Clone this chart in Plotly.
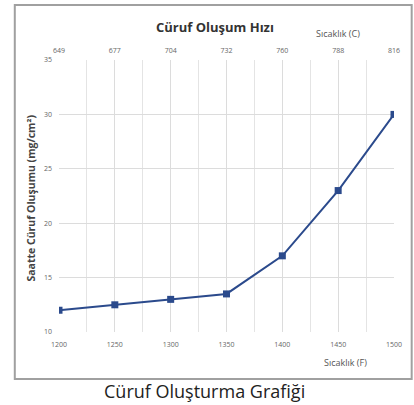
import plotly.graph_objects as go

temp_f = [1200, 1250, 1300, 1350, 1400, 1450, 1500]
temp_c_labels = ["649", "677", "704", "732", "760", "788", "816"]
slag_rate = [12.0, 12.5, 13.0, 13.5, 17.0, 23.0, 30.0]

title_text = "Cüruf Oluşum Hızı"
top_axis_title = "Sıcaklık (C)"
bottom_axis_title = "Sıcaklık (F)"
y_axis_title = "Saatte Cüruf Oluşumu (mg/cm²)"
caption = "Cüruf Oluşturma Grafiği"

W, H = 414, 405
L, R, T, B = 59, 14, 60, 73
pw, ph = W - L - R, H - T - B

def px(x):
    return (x - L) / pw

def py(y):
    return (H - B - y) / ph

line_color = "#2b4a8c"
tick_font = dict(family="Open Sans, Lato, sans-serif", size=7, color="#666666")

def note(text, x, y, size, color, angle=0):
    return dict(text=text, x=px(x), y=py(y), xref="paper", yref="paper",
                xanchor="center", yanchor="middle", showarrow=False,
                textangle=angle,
                font=dict(family="Open Sans, sans-serif", size=size, color=color))

fig = go.Figure()
fig.add_trace(go.Scatter(
    x=temp_f, y=slag_rate, mode="lines+markers",
    line=dict(color=line_color, width=2),
    marker=dict(symbol="square", size=7, color=line_color),
    showlegend=False, hoverinfo="x+y",
))
fig.add_trace(go.Scatter(
    x=temp_f, y=slag_rate, xaxis="x2", mode="lines",
    line=dict(width=0), opacity=0, showlegend=False, hoverinfo="skip",
))

fig.update_layout(
    width=W, height=H,
    margin=dict(l=L, r=R, t=T, b=B),
    paper_bgcolor="white", plot_bgcolor="white",
    xaxis=dict(
        range=[1200, 1500], tickvals=temp_f, ticktext=[str(v) for v in temp_f],
        showgrid=True, gridcolor="#dcdcdc", gridwidth=1,
        minor=dict(dtick=25, tick0=1200, showgrid=True, gridcolor="#e4e4e4"),
        zeroline=False, showline=False, ticks="", tickfont=tick_font,
        ticklabelstandoff=7,
    ),
    xaxis2=dict(
        range=[1200, 1500], overlaying="x", side="top",
        tickvals=temp_f, ticktext=temp_c_labels,
        showgrid=False, zeroline=False, showline=False, ticks="",
        tickfont=tick_font, ticklabelstandoff=5,
    ),
    yaxis=dict(
        range=[10, 35], dtick=5, showgrid=True, gridcolor="#dcdcdc",
        zeroline=False, showline=False, ticks="", tickfont=tick_font,
        ticklabelstandoff=6,
    ),
    shapes=[dict(
        type="rect", xref="paper", yref="paper",
        x0=px(14), x1=px(418), y0=py(379), y1=py(5),
        line=dict(color="#a0a0a0", width=2), layer="below",
    )],
    annotations=[
        note("<b>" + title_text + "</b>", 218, 27, 13, "#333333"),
        note(top_axis_title, 343, 34, 9, "#555555"),
        note(bottom_axis_title, 351, 362, 9, "#555555"),
        note("<b>" + y_axis_title + "</b>", 30, 198, 10.5, "#444444", -90),
        note(caption, 207, 391, 18, "#222222"),
    ],
)

fig.write_html("out.html", config={"displayModeBar": False},
               post_script="document.body.style.margin='0';")
